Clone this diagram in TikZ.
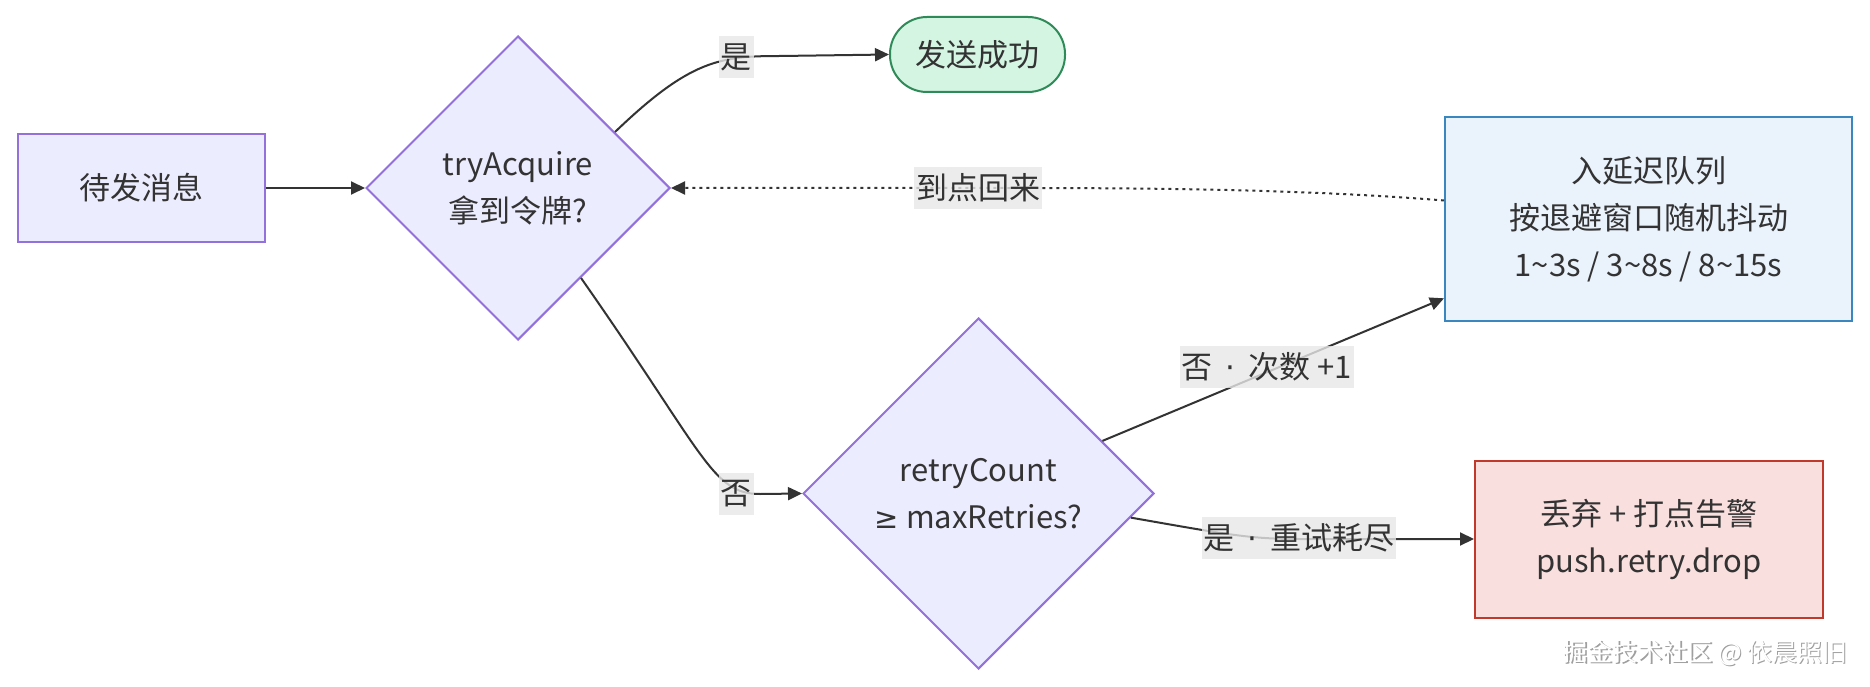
\documentclass[tikz,border=0pt]{standalone}
\usepackage{fontspec}
\setmainfont{Noto Sans CJK SC}
\newfontfamily\symfont{DejaVu Sans}
\usetikzlibrary{shapes.geometric,arrows.meta,calc}
\definecolor{txt}{HTML}{333333}
\definecolor{nfill}{HTML}{ECECFF}
\definecolor{ndraw}{HTML}{9370DB}
\definecolor{gfill}{HTML}{D5F5E3}
\definecolor{gdraw}{HTML}{2E8B57}
\definecolor{bfill}{HTML}{EAF2FB}
\definecolor{bdraw}{HTML}{3A87C0}
\definecolor{rfill}{HTML}{FADFDF}
\definecolor{rdraw}{HTML}{C0392B}
\definecolor{lblbg}{HTML}{E8E8E8}
\definecolor{edge}{HTML}{333333}
\newcommand{\mdot}{\hspace{13pt}{\symfont ·}\hspace{13pt}}
\tikzset{
  basefont/.style={font=\fontsize{31}{47}\selectfont, text=txt, align=center},
  procbox/.style={basefont, rectangle, line width=2pt, inner sep=0pt},
  decision/.style={basefont, shape=diamond, aspect=1, inner sep=0pt, draw=ndraw, fill=nfill, line width=2pt},
  conn/.style={draw=edge, line width=2pt, -{Triangle[length=14pt,width=13pt]}},
  dotconn/.style={conn, dash pattern=on 3pt off 4pt},
  lbl/.style={basefont, fill=lblbg, fill opacity=0.8, text opacity=1, inner xsep=2pt, inner ysep=0pt, minimum height=42pt},
}
\begin{document}
\begin{tikzpicture}[x=1pt,y=-1pt]
\useasboundingbox (0,0) rectangle (1870,687);
\fill[white] (0,0) rectangle (1870,687);

% nodes
\node[procbox, draw=ndraw, fill=nfill, minimum width=247pt, minimum height=108pt] (start) at (141.5,188) {待发消息};
\node[decision, minimum width=304pt, minimum height=304pt] (try) at (518,188) {tryAcquire\\拿到令牌?};
\node[procbox, draw=gdraw, fill=gfill, rounded corners=37pt, minimum width=175pt, minimum height=75pt] (ok) at (977.5,54.5) {发送成功};
\node[procbox, draw=bdraw, fill=bfill, minimum width=407pt, minimum height=204pt] (delay) at (1648.5,219) {入延迟队列\\按退避窗口随机抖动\\1\char"7E 3s / 3\char"7E 8s / 8\char"7E 15s};
\node[decision, minimum width=351pt, minimum height=351pt] (retry) at (978.5,493.5) {retryCount\\{\symfont\fontsize{29}{47}\selectfont ≥} maxRetries?};
\node[procbox, draw=rdraw, fill=rfill, minimum width=348pt, minimum height=157pt] (drop) at (1649,539) {丢弃 + 打点告警\\push.retry.drop};

\coordinate (dback) at ($(delay.north west)!0.41!(delay.south west)$);
\coordinate (din) at ($(delay.north west)!0.885!(delay.south west)$);

% connectors
\draw[conn] (start.east) -- (try.west);
\draw[conn] (try.30) .. controls (690,60) and (720,56) .. (780,56) -- (ok.west);
\draw[dotconn] (dback) .. controls (1300,189) and (1150,188) .. (1000,188) -- (try.east);
\draw[conn] (try.-55) .. controls (705,455) and (712,494) .. (760,494) -- (retry.west);
\draw[conn] (retry.23) -- (din);
\draw[conn] (retry.-9) .. controls (1230,535) and (1250,539) .. (1300,539) -- (drop.west);

% labels
\node[lbl] (l1) at (736,57) {是};
\node[lbl] (l2) at (978,188) {到点回来};
\node[lbl] (l3) at (736,494) {否};
\node[lbl] (l4) at (1267,367) {否\mdot 次数 +1};
\node[lbl] (l5) at (1299,538) {是\mdot 重试耗尽};

% watermark
\node[font=\fontsize{25}{30}\selectfont, text=gray!75] (wms) at (1706.5,654.5) {掘金技术社区 @ 依晨照旧};
\node[font=\fontsize{25}{30}\selectfont, text=white] (wm) at (1705,653) {掘金技术社区 @ 依晨照旧};
\end{tikzpicture}
\end{document}
